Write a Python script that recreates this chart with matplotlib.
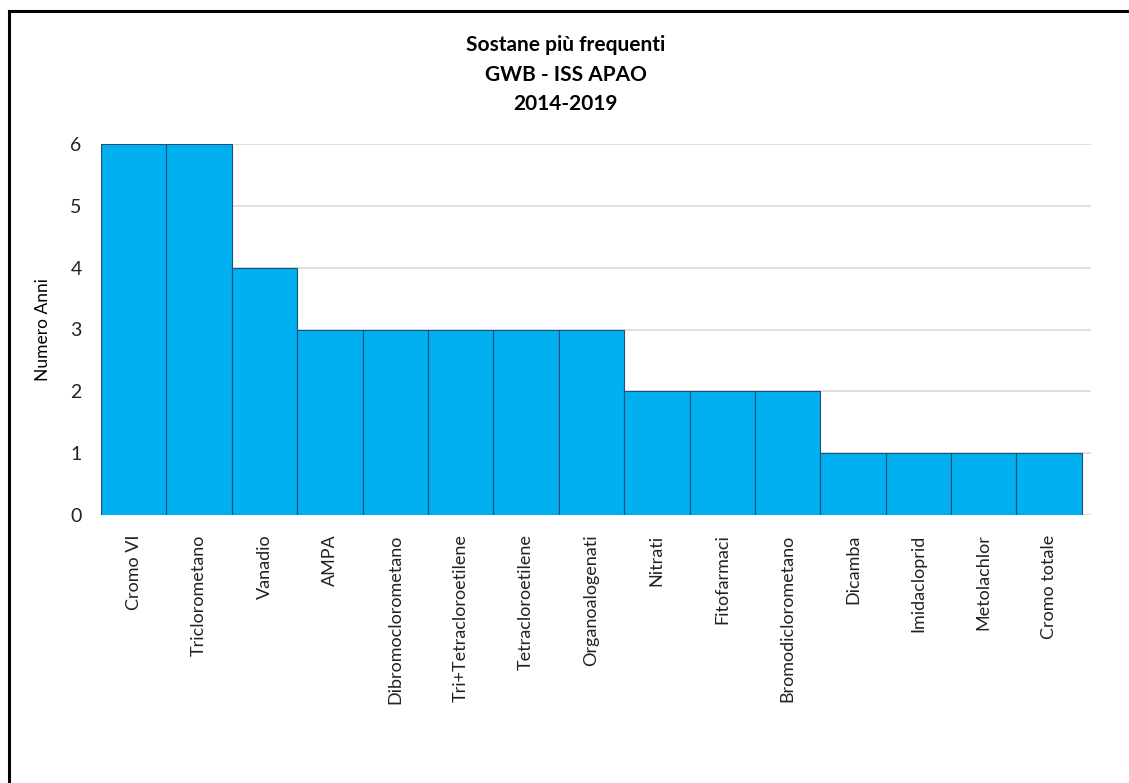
import matplotlib.pyplot as plt
from matplotlib.patches import Rectangle
import numpy as np

# data
sostanze = ["Cromo VI", "Triclorometano", "Vanadio", "AMPA", "Dibromoclorometano",
            "Tri+Tetracloroetilene", "Tetracloroetilene", "Organoalogenati", "Nitrati",
            "Fitofarmaci", "Bromodiclorometano", "Dicamba", "Imidacloprid",
            "Metolachlor", "Cromo totale"]
anni = [6, 6, 4, 3, 3, 3, 3, 3, 2, 2, 2, 1, 1, 1, 1]
titolo = "Sostane più frequenti\nGWB - ISS APAO\n2014-2019"

plt.rcParams['font.family'] = ['Lato', 'DejaVu Sans']

W, H = 1129, 783
fig = plt.figure(figsize=(W / 100, H / 100), dpi=100)
ax = fig.add_axes([101 / W, 1 - 515 / H, (1091 - 101) / W, (515 - 144) / H])

xs = np.arange(len(sostanze))
ax.bar(xs, anni, width=1.0, color="#00B0F0", edgecolor="#1F4E79", linewidth=0.8, zorder=3)

ax.set_xlim(-0.5, len(sostanze) - 0.5 + 0.14)
ax.set_ylim(0, 6)
ax.set_yticks(range(0, 7))
ax.grid(axis="y", color="#D9D9D9", linewidth=1.2, zorder=0)
for s in ax.spines.values():
    s.set_visible(False)
ax.tick_params(axis="both", length=0, colors="#222222")
ax.tick_params(axis="y", pad=14, labelsize=14)
ax.tick_params(axis="x", pad=14, labelsize=13)
ax.set_xticks(xs)
ax.set_xticklabels(sostanze, rotation=90)
ax.set_ylabel("Numero Anni", fontsize=12.5, labelpad=14)

fig.text(566 / W, 1 - 35 / H, titolo, ha="center", va="top", fontsize=15,
         fontweight="bold", linespacing=1.6)

# black frame, only top and left edges visible in the picture
fig.patches.append(Rectangle((9 / W, -0.1), 1.2, 1 - 11 / H + 0.1, transform=fig.transFigure,
                             fill=False, edgecolor="black", linewidth=2.2))

fig.savefig("out.png", dpi=100)
